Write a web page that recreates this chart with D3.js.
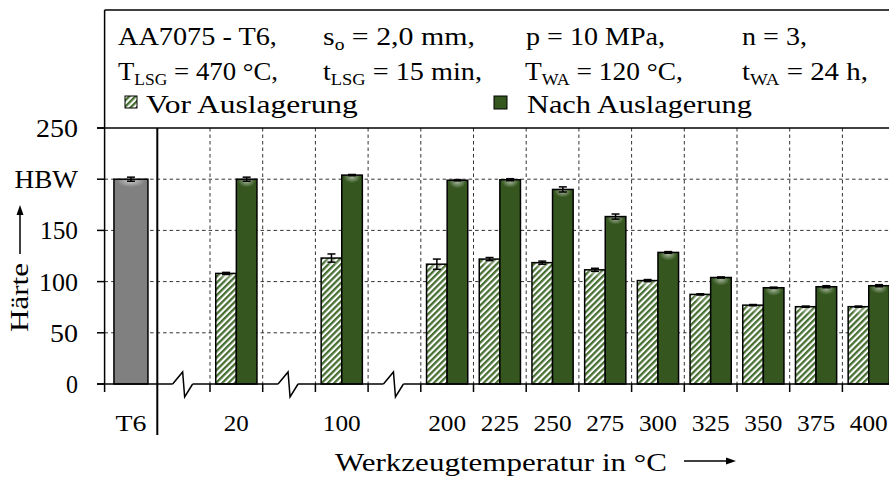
<!DOCTYPE html>
<html><head><meta charset="utf-8">
<script src="https://cdn.jsdelivr.net/npm/d3@7"></script>
<style>
html,body{margin:0;padding:0;background:#fff;}
svg{display:block;}
text{font-family:'Liberation Serif','DejaVu Serif',serif;fill:#000;}
</style></head>
<body>
<svg id="c" width="889" height="477"></svg>
<script>
// ---- data ----
const slotKeys = ["T6","b1","20","b2","100","b3","200","225","250","275","300","325","350","375","400","end"];
const categories = ["20","100","200","225","250","275","300","325","350","375","400"];
const breaks = ["b1","b2","b3"];
const vorValues  = [108, 123, 117, 122, 118.5, 111.5, 101, 87.5, 77, 75.5, 75.5];
const vorErrors  = [1, 4, 5, 1.5, 1.5, 1.5, 1, 0.6, 0.6, 0.6, 0.6];
const nachValues = [200, 204, 199, 199.5, 190, 163.5, 128.5, 104, 94, 95, 96];
const nachErrors = [2, 0.6, 0.6, 1, 2.5, 2.5, 0.8, 0.6, 0.6, 1, 1];
const t6Value = 200, t6Error = 2;
const yTicks = [0, 50, 100, 150, 200, 250];
const yTickLabels = ["0","50","100","150","HBW","250"];

const svg = d3.select("#c");
const W = 889, H = 477;
const x0 = 104.6, step = 52.7;
const x = d3.scaleBand().domain(slotKeys).range([x0, x0 + step*slotKeys.length]).padding(0);
const y = d3.scaleLinear().domain([0, 250]).range([384, 128]);

const cNach = "#35571f", cGray = "#808080", cHatch = "#476f32";
const defs = svg.append("defs");
const pat = defs.append("pattern").attr("id","hatch").attr("patternUnits","userSpaceOnUse")
  .attr("width",4.4).attr("height",4.4).attr("patternTransform","rotate(45)");
pat.append("rect").attr("width",4.4).attr("height",4.4).attr("fill","#fff");
pat.append("rect").attr("width",2.3).attr("height",4.4).attr("fill",cHatch);
const rg = defs.append("radialGradient").attr("id","glow");
rg.append("stop").attr("offset","0%").attr("stop-color","#fff").attr("stop-opacity",0.55);
rg.append("stop").attr("offset","100%").attr("stop-color","#fff").attr("stop-opacity",0);

svg.append("rect").attr("width",W).attr("height",H).attr("fill","#fff");

// scale a text element horizontally (about anchor ax) so its width becomes target
function fitW(sel, target, ax) {
  const bb = sel.node().getBBox();
  if (!bb.width) return;
  const k = target / bb.width;
  sel.attr("transform", `translate(${ax},0) scale(${k},1) translate(${-ax},0)`);
}

// grid
const grid = svg.append("g").attr("stroke","#333").attr("stroke-width",1).attr("stroke-dasharray","3.5,3");
yTicks.filter(v => v>0 && v<250).forEach(v => {
  grid.append("line").attr("x1",x0).attr("x2",W).attr("y1",y(v)).attr("y2",y(v));
});
for (let i = 2; i < slotKeys.length; i++) {
  const xx = x(slotKeys[i]);
  grid.append("line").attr("x1",xx).attr("x2",xx).attr("y1",y(250)).attr("y2",y(0));
}

// bars
const bw = 20.6;
const g = svg.append("g");
function bar(xl, w, v, err, fill) {
  g.append("rect").attr("x",xl).attr("y",y(v)).attr("width",w).attr("height",y(0)-y(v)).attr("fill",fill);
  g.append("ellipse").attr("cx",xl+w/2).attr("cy",y(v)+2).attr("rx",w*0.42).attr("ry",6).attr("fill","url(#glow)");
  g.append("rect").attr("x",xl).attr("y",y(v)).attr("width",w).attr("height",y(0)-y(v))
    .attr("fill","none").attr("stroke","#000").attr("stroke-width",1.5);
  const cx = xl + w/2;
  const e = g.append("g").attr("stroke","#000").attr("stroke-width",1.5);
  e.append("line").attr("x1",cx).attr("x2",cx).attr("y1",y(v+err)).attr("y2",y(v-err));
  e.append("line").attr("x1",cx-4).attr("x2",cx+4).attr("y1",y(v+err)).attr("y2",y(v+err));
  e.append("line").attr("x1",cx-4).attr("x2",cx+4).attr("y1",y(v-err)).attr("y2",y(v-err));
}
const t6w = 34;
bar(x("T6") + x.bandwidth()/2 - t6w/2, t6w, t6Value, t6Error, cGray);
categories.forEach((c, i) => {
  const cx = x(c) + x.bandwidth()/2;
  bar(cx - bw, bw, vorValues[i], vorErrors[i], "url(#hatch)");
  bar(cx, bw, nachValues[i], nachErrors[i], cNach);
});

// axes
const ax = svg.append("g").attr("stroke","#000").attr("stroke-width",1.5).attr("fill","none");
ax.append("line").attr("x1",x0).attr("x2",x0).attr("y1",10).attr("y2",392);
ax.append("line").attr("x1",x0).attr("x2",W).attr("y1",10).attr("y2",10);
ax.append("line").attr("x1",97).attr("x2",W).attr("y1",y(250)).attr("y2",y(250));
yTicks.forEach(v => ax.append("line").attr("x1",97).attr("x2",x0).attr("y1",y(v)).attr("y2",y(v)));
let cur = 97;
breaks.forEach(b => {
  const c = x(b) + x.bandwidth()/2;
  ax.append("line").attr("x1",cur).attr("x2",c-11).attr("y1",y(0)).attr("y2",y(0));
  ax.append("path").attr("d",`M${c-11},${y(0)}L${c-1},${y(0)-12}L${c+1},${y(0)+13}L${c+9},${y(0)}`);
  cur = c + 9;
});
ax.append("line").attr("x1",cur).attr("x2",W).attr("y1",y(0)).attr("y2",y(0));
for (let i = 2; i < slotKeys.length; i++) {
  const xx = x(slotKeys[i]);
  ax.append("line").attr("x1",xx).attr("x2",xx).attr("y1",y(0)).attr("y2",y(0)+8);
}
ax.append("line").attr("x1",x("b1")).attr("x2",x("b1")).attr("y1",y(250)).attr("y2",435).attr("stroke-width",2);

// y tick labels
const yW = [12, 28, 39, 38, 64, 42];
yTicks.forEach((v, i) => {
  const t = svg.append("text").attr("x",78).attr("y",y(v)).attr("dy","0.35em").attr("text-anchor","end")
    .style("font-size", "26px").text(yTickLabels[i]);
  fitW(t, yW[i], 78);
});
// x tick labels
const tT6 = svg.append("text").attr("x",x("T6")+x.bandwidth()/2).attr("y",431).attr("text-anchor","middle")
  .style("font-size","24px").text("T6");
fitW(tT6, 31, x("T6")+x.bandwidth()/2);
categories.forEach(c => {
  const cx = x(c)+x.bandwidth()/2;
  const t = svg.append("text").attr("x",cx).attr("y",431).attr("text-anchor","middle")
    .style("font-size","23px").text(c);
  fitW(t, c.length === 2 ? 25 : 38, cx);
});

// axis titles
const yg = svg.append("g").attr("transform","translate(28,332) rotate(-90)");
const yt = yg.append("text").attr("x",0).attr("y",0).attr("text-anchor","start")
  .style("font-size","26px").text("Härte");
fitW(yt, 69, 0);
svg.append("line").attr("x1",20).attr("x2",20).attr("y1",254).attr("y2",213).attr("stroke","#000").attr("stroke-width",1.5);
svg.append("path").attr("d","M20,205L16.5,215L23.5,215Z").attr("fill","#000");
const xt = svg.append("text").attr("x",335).attr("y",471).style("font-size","26px").text("Werkzeugtemperatur in °C");
fitW(xt, 332, 335);
svg.append("line").attr("x1",684).attr("x2",727).attr("y1",461).attr("y2",461).attr("stroke","#000").attr("stroke-width",1.5);
svg.append("path").attr("d","M736,461L726,457.5L726,464.5Z").attr("fill","#000");

// legend box text
const fs = 26;
function txt(xp, yp, main, sub, rest, target) {
  const t = svg.append("text").attr("x",xp).attr("y",yp).style("font-size",fs+"px");
  t.append("tspan").text(main);
  if (sub) t.append("tspan").attr("dy",5).style("font-size","17px").text(sub);
  if (rest) t.append("tspan").attr("dy", sub ? -5 : 0).text(rest);
  fitW(t, target, xp);
}
txt(118, 45, "AA7075 - T6,", null, null, 159);
txt(323, 45, "s", "o", " = 2,0 mm,", 152);
txt(526, 45, "p = 10 MPa,", null, null, 139);
txt(742, 45, "n = 3,", null, null, 65);
txt(118, 80, "T", "LSG", " = 470 °C,", 160);
txt(323, 80, "t", "LSG", " = 15 min,", 159);
txt(525, 80, "T", "WA", " = 120 °C,", 158);
txt(742, 80, "t", "WA", " = 24 h,", 126);
svg.append("rect").attr("x",125).attr("y",96).attr("width",12).attr("height",12)
  .attr("fill","url(#hatch)").attr("stroke","#000").attr("stroke-width",1);
txt(146, 113, "Vor Auslagerung", null, null, 212);
svg.append("rect").attr("x",494).attr("y",96).attr("width",13).attr("height",13)
  .attr("fill",cNach).attr("stroke","#000").attr("stroke-width",1);
txt(527, 113, "Nach Auslagerung", null, null, 225);
</script>
</body></html>
